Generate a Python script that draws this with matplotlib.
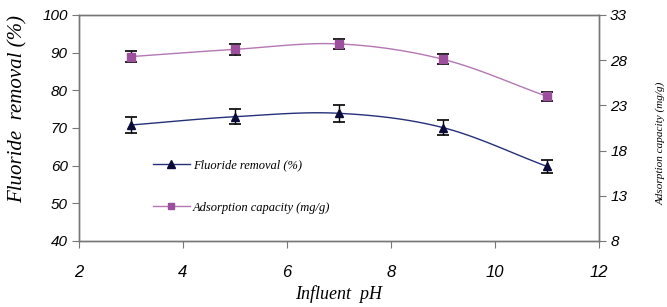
import numpy as np
import matplotlib
matplotlib.use("Agg")
from matplotlib import pyplot as plt

ph = [3, 5, 7, 9, 11]
removal = [70.8, 73.0, 73.9, 70.1, 59.8]
removal_err = [2.2, 2.0, 2.2, 2.0, 1.8]
capacity = [28.4, 29.2, 29.8, 28.1, 24.0]
capacity_err = [0.57, 0.57, 0.6, 0.55, 0.5]

def smooth(x, y, n=30):
    # Catmull-Rom, like Excel's smoothed line
    x = np.asarray(x, float); y = np.asarray(y, float)
    px = np.concatenate([[2*x[0]-x[1]], x, [2*x[-1]-x[-2]]])
    py = np.concatenate([[2*y[0]-y[1]], y, [2*y[-1]-y[-2]]])
    xs, ys = [], []
    t = np.linspace(0, 1, n)
    for i in range(1, len(px)-2):
        for p, out in ((px, xs), (py, ys)):
            p0, p1, p2, p3 = p[i-1], p[i], p[i+1], p[i+2]
            out.extend(0.5*((2*p1) + (-p0+p2)*t + (2*p0-5*p1+4*p2-p3)*t**2
                            + (-p0+3*p1-3*p2+p3)*t**3))
    return xs, ys

tick_font = "Liberation Sans"
serif = "Liberation Serif"

fig = plt.figure(figsize=(6.67, 3.07), dpi=100)
ax = fig.add_axes([79/667, 66/307, 520/667, 226/307])
ax2 = ax.twinx()

navy = "#24307a"
purple = "#b477b4"

sx, sy = smooth(ph, removal)
ax.plot(sx, sy, color=navy, lw=1)
ax.errorbar(ph, removal, yerr=removal_err, fmt="^", color="#0b0b3a", ms=6,
            ecolor="black", elinewidth=1, capsize=4, capthick=1.2)
ax.plot([], [], color=navy, lw=1, marker="^", mfc="#0b0b3a", mec="#0b0b3a",
        ms=6, label="Fluoride removal (%)")

sx2, sy2 = smooth(ph, capacity)
ax2.plot(sx2, sy2, color=purple, lw=1)
ax2.errorbar(ph, capacity, yerr=capacity_err, fmt="s", color="#9c4f9c", ms=6,
             ecolor="black", elinewidth=1, capsize=4, capthick=1.2)
ax.plot([], [], color=purple, lw=1, marker="s", mfc="#9c4f9c", mec="#9c4f9c",
        ms=5, label="Adsorption capacity (mg/g)")

ax.set_xlim(2, 12)
ax.set_ylim(40, 100)
ax2.set_ylim(8, 33)
ax.set_xticks([2, 4, 6, 8, 10, 12])
ax.set_yticks(range(40, 101, 10))
ax2.set_yticks([8, 13, 18, 23, 28, 33])

for a in (ax, ax2):
    for s in a.spines.values():
        s.set_color("#777777")
        s.set_linewidth(1)
ax.tick_params(axis="x", direction="out", length=5, color="#777777", pad=12)
ax.tick_params(axis="y", direction="out", length=5, color="#777777", pad=3)
ax2.tick_params(axis="y", direction="out", length=5, color="#777777", pad=3)

for lab in ax.get_xticklabels():
    lab.set_fontfamily(tick_font); lab.set_fontstyle("italic"); lab.set_fontsize(12)
for lab in ax.get_yticklabels():
    lab.set_fontfamily(tick_font); lab.set_fontstyle("italic"); lab.set_fontsize(11)
for lab in ax2.get_yticklabels():
    lab.set_fontfamily(tick_font); lab.set_fontstyle("italic"); lab.set_fontsize(11)

ax.set_xlabel("Influent  pH", family=serif, style="italic", fontsize=13, labelpad=4)
fig.text(18/667, 1 - 203/307, "Fluoride  removal (%)", family=serif, style="italic",
         fontsize=15, rotation=90, ha="center", va="bottom")
fig.text(661/667, 0.5 + 10/307, "Adsorption capacity (mg/g)", family=serif, style="italic",
         fontsize=8, rotation=90, ha="center", va="center")

leg = ax.legend(loc="upper left", bbox_to_anchor=(0.12, 0.41), frameon=False,
                prop={"family": serif, "style": "italic", "size": 9},
                handlelength=3.0, labelspacing=2.4, handletextpad=0.2)

fig.savefig("out.png", dpi=100)
